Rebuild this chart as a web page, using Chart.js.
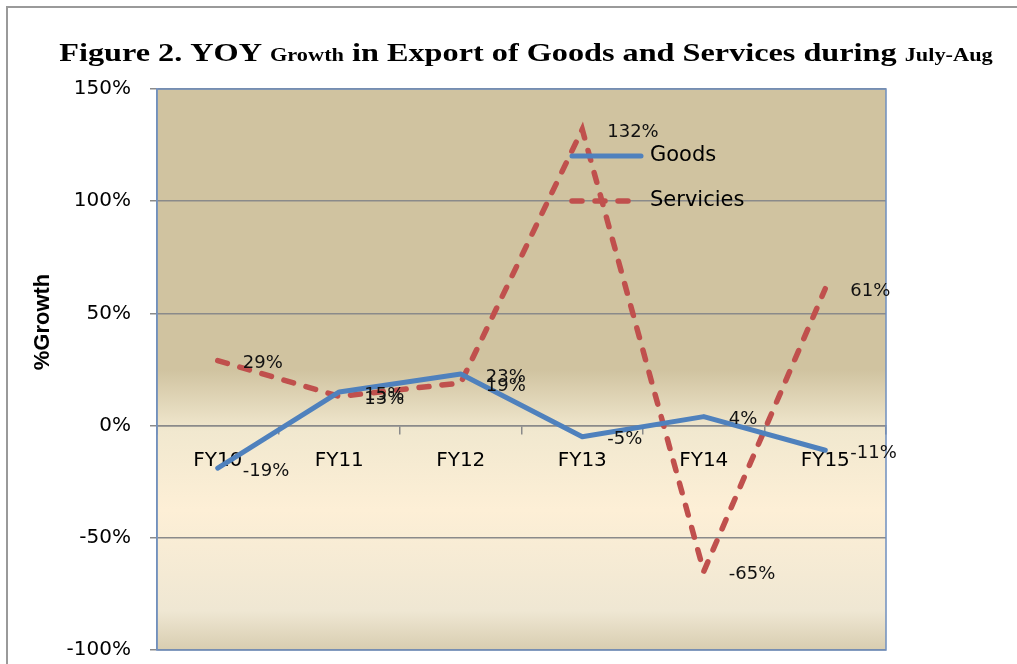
<!DOCTYPE html>
<html>
<head>
<meta charset="utf-8">
<script src="https://cdn.jsdelivr.net/npm/chart.js@4"></script>
<style>
  body { margin: 0; background: #fff; }
  canvas { display: block; }
</style>
</head>
<body>
<canvas id="growthChart" width="1017" height="664"></canvas>
<script>
// data
const years = ["FY10", "FY11", "FY12", "FY13", "FY14", "FY15"];
const goodsGrowth = [-19, 15, 23, -5, 4, -11];
const servicesGrowth = [29, 13, 19, 132, -65, 61];
const yTicks = [-100, -50, 0, 50, 100, 150];

const titleParts = [
  { text: "Figure 2. YOY ", big: true },
  { text: "Growth", big: false },
  { text: " in Export of Goods and Services during ", big: true },
  { text: "July-Aug", big: false }
];

// gradient fill behind the plot + outer frame + title + y title
const decorPlugin = {
  id: "decor",
  beforeDraw(chart) {
    const { ctx, chartArea: a } = chart;
    ctx.save();
    const g = ctx.createLinearGradient(0, a.top, 0, a.bottom);
    g.addColorStop(0, "#d0c3a0");
    g.addColorStop(0.5, "#d0c3a0");
    g.addColorStop(0.61, "#f1e8cf");
    g.addColorStop(0.75, "#fdefd6");
    g.addColorStop(0.93, "#efe7d3");
    g.addColorStop(1, "#d8cdb0");
    ctx.fillStyle = g;
    ctx.fillRect(a.left, a.top, a.right - a.left, a.bottom - a.top);

    // outer frame
    ctx.strokeStyle = "#9a9a9a";
    ctx.lineWidth = 2;
    ctx.beginPath();
    ctx.moveTo(7, 664);
    ctx.lineTo(7, 7);
    ctx.lineTo(1017, 7);
    ctx.stroke();

    // mixed size title, the original is a bit stretched sideways
    const stretch = 1.24;
    const bigFont = "bold 26px 'Liberation Serif', 'Times New Roman', serif";
    const smallFont = "bold 18px 'Liberation Serif', 'Times New Roman', serif";
    let total = 0;
    titleParts.forEach(p => {
      ctx.font = p.big ? bigFont : smallFont;
      total += ctx.measureText(p.text).width;
    });
    ctx.save();
    ctx.translate(526 - total * stretch / 2, 61);
    ctx.scale(stretch, 1);
    let x = 0;
    ctx.fillStyle = "#000";
    ctx.textBaseline = "alphabetic";
    ctx.textAlign = "left";
    titleParts.forEach(p => {
      ctx.font = p.big ? bigFont : smallFont;
      ctx.fillText(p.text, x, 0);
      x += ctx.measureText(p.text).width;
    });
    ctx.restore();

    // y axis title
    ctx.translate(43, 322);
    ctx.rotate(-Math.PI / 2);
    ctx.font = "bold 22px 'Liberation Sans', Arial, sans-serif";
    ctx.fillStyle = "#000";
    ctx.textAlign = "center";
    ctx.textBaseline = "middle";
    ctx.fillText("%Growth", 0, 0);
    ctx.restore();
  },
  beforeDatasetsDraw(chart) {
    const { ctx, chartArea: a } = chart;
    ctx.save();
    ctx.strokeStyle = "#6f8fbf";
    ctx.lineWidth = 1.5;
    ctx.strokeRect(a.left, a.top, a.right - a.left, a.bottom - a.top);
    ctx.restore();
  }
};

// value labels to the right of every point
const valueLabels = {
  id: "valueLabels",
  afterDatasetsDraw(chart) {
    const { ctx } = chart;
    ctx.save();
    ctx.font = "18px 'DejaVu Sans', Verdana, sans-serif";
    ctx.fillStyle = "#111";
    ctx.textAlign = "left";
    ctx.textBaseline = "middle";
    chart.data.datasets.forEach((ds, i) => {
      chart.getDatasetMeta(i).data.forEach((pt, j) => {
        ctx.fillText(ds.data[j] + "%", pt.x + 25, pt.y + 3);
      });
    });
    ctx.restore();
  }
};

// legend sits inside the plot, top right of the FY13 peak
const innerLegend = {
  id: "innerLegend",
  afterDatasetsDraw(chart) {
    const { ctx, chartArea: a } = chart;
    ctx.save();
    ctx.font = "21px 'DejaVu Sans', Verdana, sans-serif";
    ctx.textBaseline = "middle";
    ctx.fillStyle = "#000";
    chart.data.datasets.forEach((ds, i) => {
      const y = a.top + 67 + i * 45;
      const x = a.left + 413;
      ctx.strokeStyle = ds.borderColor;
      ctx.lineWidth = ds.borderWidth;
      ctx.lineCap = "round";
      ctx.setLineDash(ds.borderDash || []);
      ctx.beginPath();
      ctx.moveTo(x + 2, y);
      ctx.lineTo(x + 71, y);
      ctx.stroke();
      ctx.setLineDash([]);
      ctx.fillText(ds.label, x + 80, y);
    });
    ctx.restore();
  }
};

new Chart(document.getElementById("growthChart"), {
  type: "line",
  data: {
    labels: years,
    datasets: [
      {
        label: "Goods",
        data: goodsGrowth,
        borderColor: "#4f81bd",
        backgroundColor: "#4f81bd",
        borderWidth: 5,
        pointRadius: 0,
        tension: 0,
        borderCapStyle: "round",
        borderJoinStyle: "round"
      },
      {
        label: "Servicies",
        data: servicesGrowth,
        borderColor: "#c0504d",
        backgroundColor: "#c0504d",
        borderWidth: 5.5,
        borderDash: [10, 13],
        borderCapStyle: "round",
        pointRadius: 0,
        tension: 0
      }
    ]
  },
  options: {
    responsive: false,
    animation: false,
    layout: { padding: { top: 89, right: 131, bottom: 14, left: 0 } },
    scales: {
      x: {
        position: { y: 0 },
        offset: true,
        afterFit: (scale) => { scale.height = 0; scale.paddingBottom = 0; scale.paddingTop = 0; },
        grid: {
          offset: true,
          drawOnChartArea: false,
          drawTicks: true,
          tickLength: 8,
          color: "#8a8a8a",
          lineWidth: 1.5
        },
        border: { color: "#8a8a8a", width: 1.5 },
        ticks: {
          padding: 15,
          color: "#000",
          font: { family: "'DejaVu Sans', Verdana, sans-serif", size: 20 }
        }
      },
      y: {
        min: -100,
        max: 150,
        afterFit: (scale) => { scale.width = 157; scale.paddingBottom = 0; scale.paddingTop = 0; },
        afterBuildTicks: (scale) => { scale.ticks = yTicks.map(v => ({ value: v })); },
        grid: {
          color: "#8a8a8a",
          lineWidth: 1.5,
          tickLength: 7
        },
        border: { color: "#7f95b5", width: 1.5 },
        ticks: {
          padding: 19,
          color: "#000",
          font: { family: "'DejaVu Sans', Verdana, sans-serif", size: 20 },
          callback: (v) => v + "%"
        }
      }
    },
    plugins: {
      legend: { display: false },
      title: { display: false },
      tooltip: { enabled: false }
    }
  },
  plugins: [decorPlugin, valueLabels, innerLegend]
});
</script>
</body>
</html>
